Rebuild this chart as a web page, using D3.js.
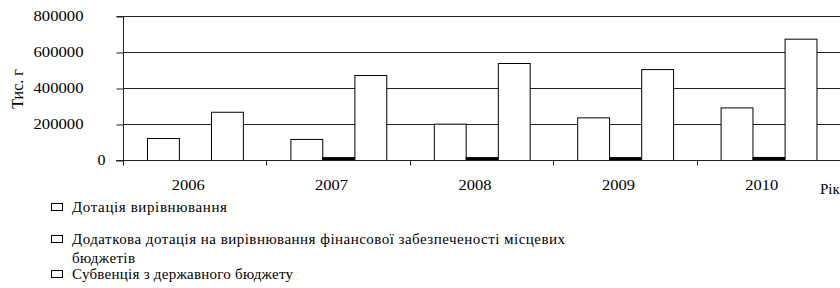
<!DOCTYPE html>
<html>
<head>
<meta charset="utf-8">
<script src="https://cdn.jsdelivr.net/npm/d3@7"></script>
<style>
  body { margin: 0; background: #fff; }
  svg { display: block; }
  svg text { font-family: 'Liberation Serif', 'Times New Roman', serif; fill: #000; }
</style>
</head>
<body>
<div id="chart"></div>
<script>
// values in thousand hryvnias
const years = ['2006', '2007', '2008', '2009', '2010'];
const dotatsiya = [122000, 117000, 202000, 237000, 292000];
const dodatkova = [0, 16000, 16000, 16000, 17000];
const subventsiya = [268000, 472000, 539000, 505000, 674000];
const yTicks = [0, 200000, 400000, 600000, 800000];
const seriesKeys = ['dot', 'dod', 'sub'];
const seriesFill = ['#fff', '#000', '#fff'];
// legend lines (second entry wraps onto two lines)
const legendLines = [
  ['Дотація вирівнювання'],
  ['Додаткова дотація на вирівнювання фінансової забезпеченості місцевих', 'бюджетів'],
  ['Субвенція з державного бюджету']
];

const width = 840, height = 288;
const margin = { top: 16, right: 0, bottom: 128, left: 123 };

const data = years.map((y, i) => ({
  year: y,
  values: [dotatsiya[i], dodatkova[i], subventsiya[i]]
}));

const svg = d3.select('#chart').append('svg')
    .attr('width', width)
    .attr('height', height);

const x0 = d3.scaleBand()
    .domain(years)
    .range([margin.left, width - margin.right]);

const x1 = d3.scaleBand()
    .domain(seriesKeys)
    .range([x0.bandwidth() / 6, x0.bandwidth() * 5 / 6]);

const y = d3.scaleLinear()
    .domain([0, 800000])
    .range([height - margin.bottom, margin.top]);

// gridlines
svg.append('g')
  .selectAll('line')
  .data(yTicks.filter(d => d > 0))
  .join('line')
    .attr('x1', margin.left)
    .attr('x2', width - margin.right)
    .attr('y1', d => y(d) + 0.5)
    .attr('y2', d => y(d) + 0.5)
    .attr('stroke', '#222')
    .attr('stroke-width', 1);

// bars
svg.append('g')
  .selectAll('g')
  .data(data)
  .join('g')
    .attr('transform', d => `translate(${x0(d.year)},0)`)
  .selectAll('rect')
  .data(d => d.values.map((v, i) => ({ key: seriesKeys[i], value: v, i })))
  .join('rect')
    .filter(d => d.value > 0)
    .attr('x', d => Math.round(x1(d.key)) + 0.5)
    .attr('y', d => y(d.value) + 0.5)
    .attr('width', x1.bandwidth())
    .attr('height', d => y(0) - y(d.value))
    .attr('fill', d => seriesFill[d.i])
    .attr('stroke', '#000')
    .attr('stroke-width', 1);

// y axis
const yAxis = svg.append('g')
    .attr('transform', `translate(${margin.left + 0.5},0.5)`)
    .call(d3.axisLeft(y).tickValues(yTicks).tickSize(7).tickPadding(0).tickFormat(d3.format('d')));
yAxis.attr('font-family', null);
yAxis.select('.domain').attr('stroke', '#222').attr('d', `M-7,${y(800000)}H0V${y(0)}`);
yAxis.selectAll('.tick line').attr('stroke', '#222');
yAxis.selectAll('.tick text')
    .attr('font-size', 14)
    .attr('text-anchor', 'start')
    .attr('dy', '0.32em')
    .attr('x', d => d === 0 ? -26 : -90)
    .attr('textLength', d => d === 0 ? 8 : 50)
    .attr('lengthAdjust', 'spacingAndGlyphs');

// x axis with ticks between categories
const xAxis = svg.append('g')
    .attr('transform', `translate(0,${y(0) + 0.5})`);
xAxis.append('line')
    .attr('x1', margin.left - 7)
    .attr('x2', width - margin.right)
    .attr('stroke', '#222');
xAxis.selectAll('.sep')
  .data(years)
  .join('line')
    .attr('class', 'sep')
    .attr('x1', d => Math.round(x0(d)) + 0.5)
    .attr('x2', d => Math.round(x0(d)) + 0.5)
    .attr('y1', 0)
    .attr('y2', 5)
    .attr('stroke', '#222');
xAxis.selectAll('.lbl')
  .data(years)
  .join('text')
    .attr('class', 'lbl')
    .attr('x', d => x0(d) + x0.bandwidth() / 2 - 23)
    .attr('y', 29)
    .attr('font-size', 15)
    .attr('textLength', 33)
    .attr('lengthAdjust', 'spacingAndGlyphs')
    .text(d => d);

// axis titles ("Рік" runs off the right edge, as in the original)
svg.append('text')
    .attr('x', 820)
    .attr('y', 194)
    .attr('font-size', 15)
    .text('Рік');

svg.append('text')
    .attr('transform', 'translate(23,89) rotate(-90)')
    .attr('text-anchor', 'middle')
    .attr('font-size', 16)
    .text('Тис. г');

// legend
const legendTop = [212, 244, 279];
const legendWidths = [[155], [493, 63], [221]];
const legend = svg.append('g');
legendLines.forEach((lines, i) => {
  const g = legend.append('g');
  g.append('rect')
      .attr('x', 51.5)
      .attr('y', legendTop[i] - 8.5)
      .attr('width', 11)
      .attr('height', 7)
      .attr('fill', 'none')
      .attr('stroke', '#000');
  lines.forEach((t, j) => {
    g.append('text')
        .attr('x', 72)
        .attr('y', legendTop[i] + j * 19)
        .attr('font-size', 15)
        .attr('textLength', legendWidths[i][j])
        .attr('lengthAdjust', 'spacing')
        .text(t);
  });
});
</script>
</body>
</html>
